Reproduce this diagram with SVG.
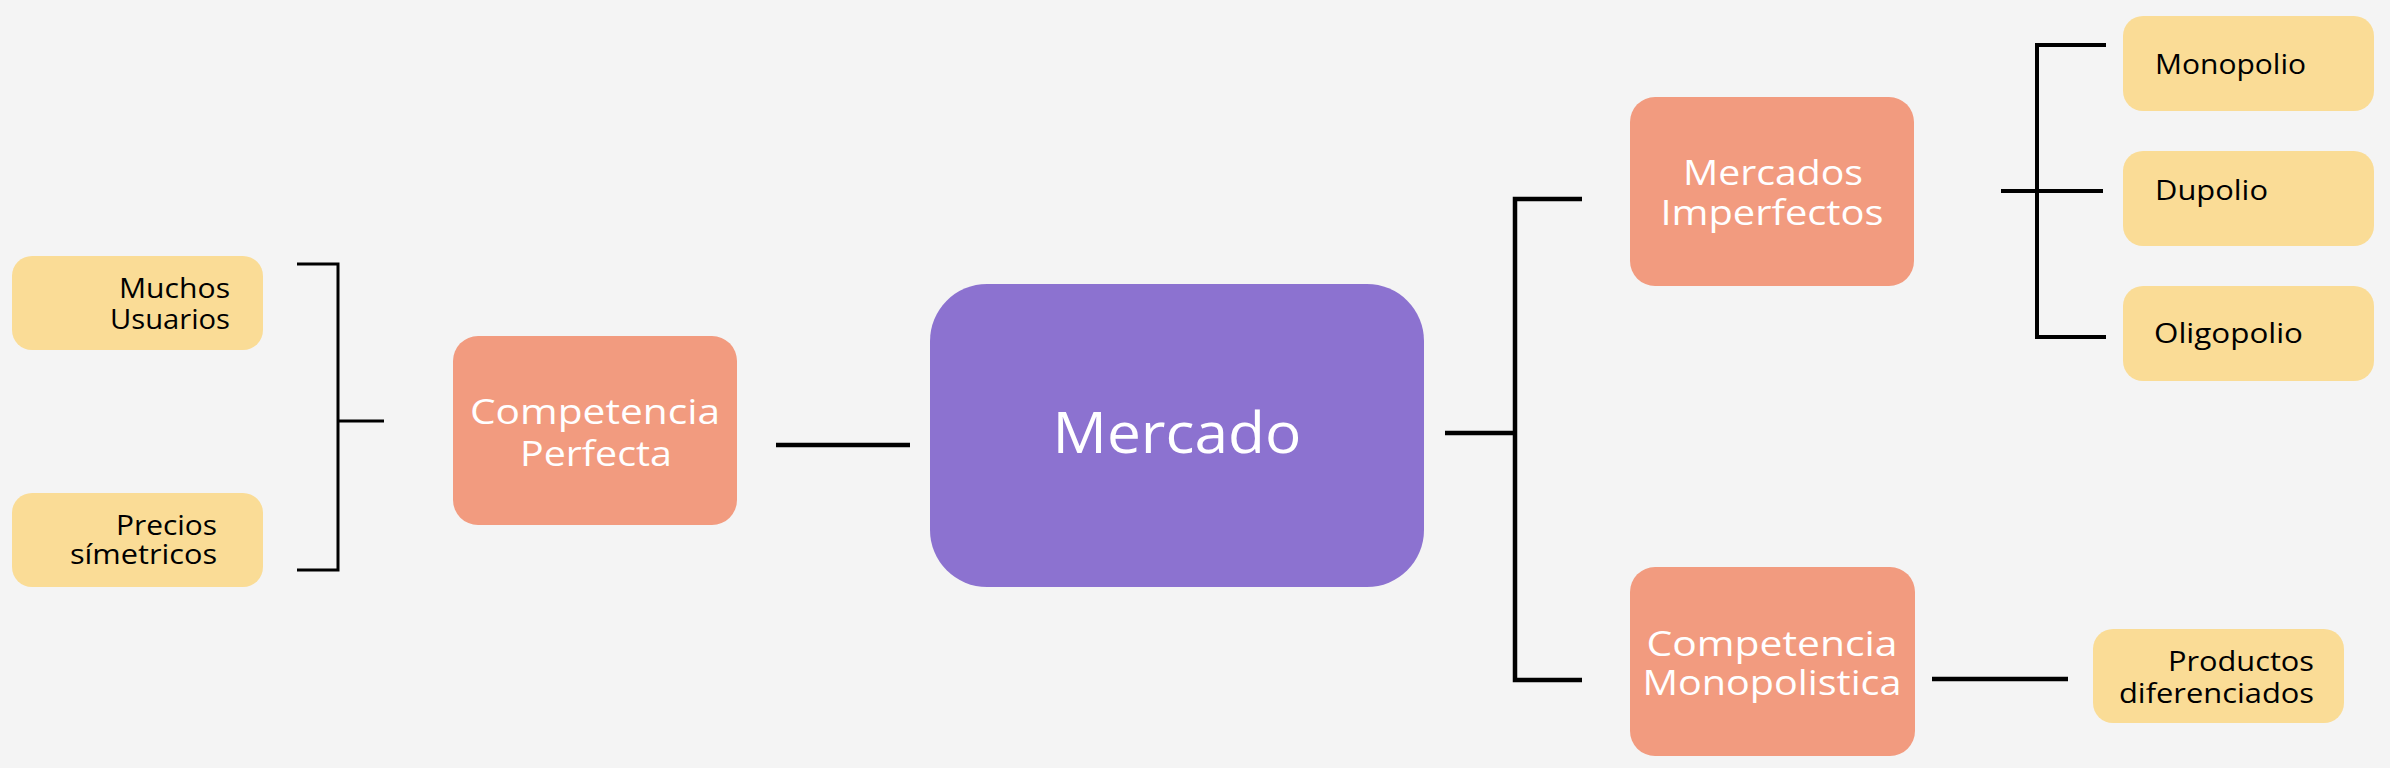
<svg xmlns="http://www.w3.org/2000/svg" width="2390" height="768" viewBox="0 0 2390 768">
<style>
.bg{fill:#f4f4f4}
.main{fill:#8c72d0}
.mid{fill:#f29b7f}
.leaf{fill:#fadc96}
.wt{font-family:"Open Sans","Noto Sans","Liberation Sans",sans-serif;fill:#ffffff;font-weight:500}
.bt{font-family:"Open Sans","Noto Sans","Liberation Sans",sans-serif;fill:#000000;font-size:27px;font-weight:500}
.ln{fill:none;stroke:#000000;stroke-linecap:butt;stroke-linejoin:miter}
</style>
<rect class="bg" x="0" y="0" width="2390" height="768"/>
<g id="connectors">
<path class="ln" stroke-width="3" d="M297 264 H338 V570 H297 M338 421 H384"/>
<path class="ln" stroke-width="4.5" d="M776 445 H910"/>
<path class="ln" stroke-width="4.5" d="M1445 433 H1515 M1582 199 H1515 V680 H1582"/>
<path class="ln" stroke-width="4.5" d="M1932 679 H2068"/>
<path class="ln" stroke-width="4" d="M2106 45 H2037 V337 H2106 M2001 191 H2103"/>
</g>
<g id="node-muchos">
<rect class="leaf" x="12" y="256" width="251" height="94" rx="20"/>
<text class="bt" x="230" y="298" text-anchor="end" textLength="111" lengthAdjust="spacingAndGlyphs">Muchos</text>
<text class="bt" x="230" y="329" text-anchor="end" textLength="120" lengthAdjust="spacingAndGlyphs">Usuarios</text>
</g>
<g id="node-precios">
<rect class="leaf" x="12" y="493" width="251" height="94" rx="20"/>
<text class="bt" x="217" y="535" text-anchor="end" textLength="101" lengthAdjust="spacingAndGlyphs">Precios</text>
<text class="bt" x="217" y="564" text-anchor="end" textLength="147" lengthAdjust="spacingAndGlyphs">símetricos</text>
</g>
<g id="node-competencia-perfecta">
<rect class="mid" x="453" y="336" width="284" height="189" rx="25"/>
<text class="wt" x="595" y="424" font-size="34" text-anchor="middle" textLength="250" lengthAdjust="spacingAndGlyphs">Competencia</text>
<text class="wt" x="596" y="466" font-size="34" text-anchor="middle" textLength="152" lengthAdjust="spacingAndGlyphs">Perfecta</text>
</g>
<g id="node-mercado">
<rect class="main" x="930" y="284" width="494" height="303" rx="57"/>
<text class="wt" x="1177" y="453" font-size="57" text-anchor="middle" textLength="249" lengthAdjust="spacingAndGlyphs">Mercado</text>
</g>
<g id="node-mercados-imperfectos">
<rect class="mid" x="1630" y="97" width="284" height="189" rx="25"/>
<text class="wt" x="1773" y="185" font-size="34" text-anchor="middle" textLength="180" lengthAdjust="spacingAndGlyphs">Mercados</text>
<text class="wt" x="1772" y="225" font-size="34" text-anchor="middle" textLength="223" lengthAdjust="spacingAndGlyphs">Imperfectos</text>
</g>
<g id="node-competencia-monopolistica">
<rect class="mid" x="1630" y="567" width="285" height="189" rx="25"/>
<text class="wt" x="1772" y="656" font-size="34" text-anchor="middle" textLength="251" lengthAdjust="spacingAndGlyphs">Competencia</text>
<text class="wt" x="1772" y="695" font-size="34" text-anchor="middle" textLength="259" lengthAdjust="spacingAndGlyphs">Monopolistica</text>
</g>
<g id="node-monopolio">
<rect class="leaf" x="2123" y="16" width="251" height="95" rx="20"/>
<text class="bt" x="2155" y="74" textLength="151" lengthAdjust="spacingAndGlyphs">Monopolio</text>
</g>
<g id="node-dupolio">
<rect class="leaf" x="2123" y="151" width="251" height="95" rx="20"/>
<text class="bt" x="2155" y="200" textLength="113" lengthAdjust="spacingAndGlyphs">Dupolio</text>
</g>
<g id="node-oligopolio">
<rect class="leaf" x="2123" y="286" width="251" height="95" rx="20"/>
<text class="bt" x="2154" y="343" textLength="149" lengthAdjust="spacingAndGlyphs">Oligopolio</text>
</g>
<g id="node-productos">
<rect class="leaf" x="2093" y="629" width="251" height="94" rx="20"/>
<text class="bt" x="2314" y="671" text-anchor="end" textLength="146" lengthAdjust="spacingAndGlyphs">Productos</text>
<text class="bt" x="2314" y="703" text-anchor="end" textLength="195" lengthAdjust="spacingAndGlyphs">diferenciados</text>
</g>
</svg>
